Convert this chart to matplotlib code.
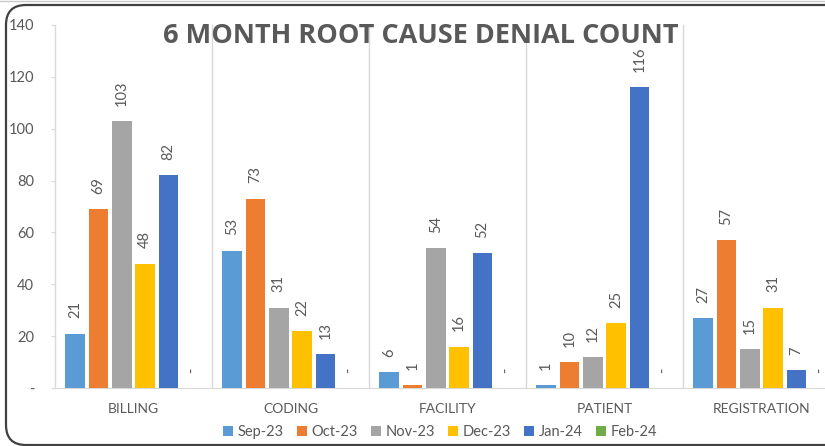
import numpy as np
import matplotlib
matplotlib.use('Agg')
import matplotlib.pyplot as plt
from matplotlib.patches import FancyBboxPatch
from matplotlib.lines import Line2D

plt.rcParams['font.family'] = ['Lato', 'DejaVu Sans']

categories = ['BILLING', 'CODING', 'FACILITY', 'PATIENT', 'REGISTRATION']
months = ['Sep-23', 'Oct-23', 'Nov-23', 'Dec-23', 'Jan-24', 'Feb-24']
sep_23 = [21, 53, 6, 1, 27]
oct_23 = [69, 73, 1, 10, 57]
nov_23 = [103, 31, 54, 12, 15]
dec_23 = [48, 22, 16, 25, 31]
jan_24 = [82, 13, 52, 116, 7]
feb_24 = [0, 0, 0, 0, 0]
series = [sep_23, oct_23, nov_23, dec_23, jan_24, feb_24]

colors = ['#5B9BD5', '#ED7D31', '#A5A5A5', '#FFC000', '#4472C4', '#70AD47']
text_gray = '#595959'

fig = plt.figure(figsize=(8.25, 4.46), dpi=100)
ax = fig.add_axes([55 / 825, 58 / 446, 785 / 825, 363 / 446])

x = np.arange(len(categories))
step = 0.1485
bar_w = 0.127
for i, (vals, m) in enumerate(zip(series, months)):
    pos = x + (i - 2.5) * step
    ax.bar(pos, vals, width=bar_w, color=colors[i], label=m, zorder=3)
    for p, v in zip(pos, vals):
        lbl = '-' if v == 0 else str(v)
        ax.annotate(lbl, (p, v), xytext=(0, 11), textcoords='offset points',
                    rotation=90, ha='center', va='bottom', fontsize=10.5,
                    color=text_gray)

# category separators
for b in np.arange(-0.5, len(categories) + 0.5, 1):
    ax.plot([b, b], [0, 140], color='#D9D9D9', lw=1, zorder=1, clip_on=False)

ax.set_xlim(-0.5, len(categories) - 0.5)
ax.set_ylim(0, 140)
ax.set_yticks(range(0, 141, 20))
ax.set_yticklabels(['-'] + [str(t) for t in range(20, 141, 20)])
ax.set_xticks(x)
ax.set_xticklabels(categories)
ax.tick_params(axis='y', length=3, color='#D9D9D9', pad=12, labelsize=10.5, labelcolor=text_gray)
ax.tick_params(axis='x', length=0, pad=11, labelsize=10, labelcolor=text_gray)
for s in ['top', 'right', 'left']:
    ax.spines[s].set_visible(False)
ax.spines['bottom'].set_color('#D9D9D9')

fig.text(421 / 825, 1 - 36 / 446, '6 MONTH ROOT CAUSE DENIAL COUNT', ha='center', va='center',
         fontsize=19.5, fontweight='bold', color=text_gray, family=['Open Sans', 'DejaVu Sans'])

fig.legend(loc='center', bbox_to_anchor=(440 / 825, 1 - 432 / 446), ncol=6, frameon=False,
           fontsize=10.5, handlelength=0.7, handleheight=0.7, handletextpad=0.3,
           columnspacing=0.9, labelcolor=text_gray)

# chart border
border = FancyBboxPatch((0.06, 0.01), 9.0, 4.40, boxstyle='round,pad=0,rounding_size=0.2',
                        transform=fig.dpi_scale_trans, fill=False, edgecolor='#404040', lw=1.6)
fig.patches.append(border)
fig.lines.append(Line2D([0, 1], [0.997, 0.997], transform=fig.transFigure, color='#C8C8C8', lw=1))

fig.savefig('out.png', dpi=100)
